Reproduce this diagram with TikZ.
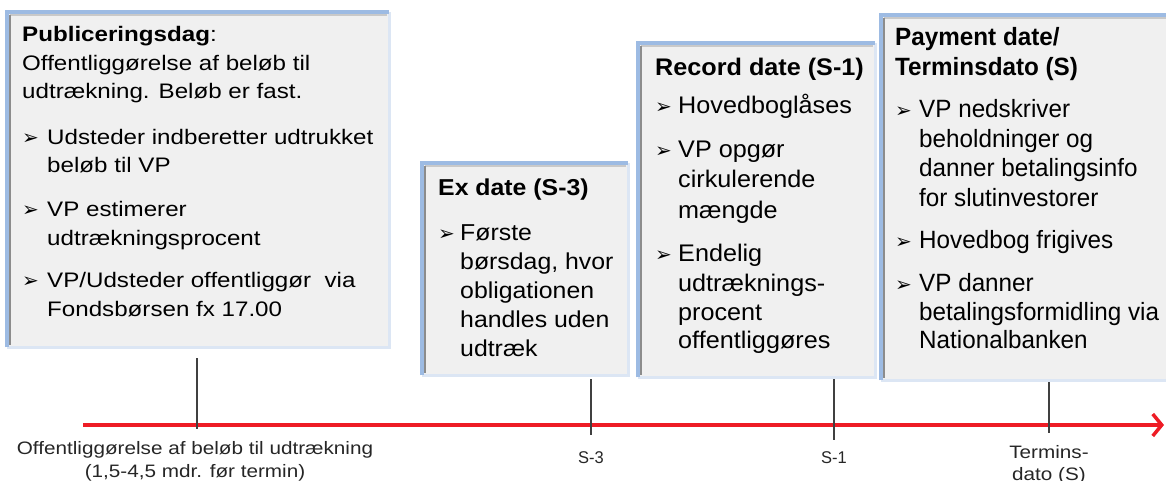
\documentclass[tikz,border=0pt]{standalone}
\usepackage{fontspec}
\setmainfont{Liberation Sans}
\newfontfamily\fA{Liberation Sans}[FakeStretch=1.15]
\newfontfamily\fB{Liberation Sans}[FakeStretch=1.08]
\newfontfamily\fC{Liberation Sans}[FakeStretch=1.05]
\newfontfamily\fD{Liberation Sans}[FakeStretch=0.97]
\newfontfamily\fL{Liberation Sans}[FakeStretch=1.15]
\newfontfamily\bulf{DejaVu Sans}
\usetikzlibrary{arrows.meta}
\definecolor{boxfill}{HTML}{F0F0F0}
\definecolor{edgeblue}{HTML}{9DBBE3}
\definecolor{edgelight}{HTML}{DCE6F4}
\definecolor{shadegray}{HTML}{8C8C8C}
\definecolor{topgray}{HTML}{C9C9C9}
\definecolor{tlred}{HTML}{EE1C25}
\definecolor{tickgray}{HTML}{404040}
\newcommand\bu[1]{\makebox[#1pt][l]{\raisebox{0pt}{\bulf\fontsize{20}{20}\selectfont ➢}}}
\newcommand\slidebox[5]{%
  \node[panel, minimum width={(#4-#2)*1pt}, minimum height={(#5-#3)*1pt}] (#1) at (#2,#3) {};
  \draw[topgray, line width=2pt] ([xshift=3pt,yshift=-3pt]#1.north west) -- ([xshift=-2pt,yshift=-3pt]#1.north east);
  \draw[shadegray, line width=1.6pt] ([xshift=3pt,yshift=-3pt]#1.north west) -- ([xshift=3pt,yshift=2pt]#1.south west);
  \draw[edgelight, line width=3pt] (#1.north east) -- (#1.south east) -- (#1.south west);
  \draw[edgeblue, line width=3.5pt] (#1.south west) -- (#1.north west) -- (#1.north east);
}
\begin{document}
\begin{tikzpicture}[x=1pt,y=-1pt,
  panel/.style={fill=boxfill, draw=none, inner sep=0pt, anchor=north west},
  txt/.style={anchor=base west, inner sep=0pt},
  lbl/.style={anchor=base, inner sep=0pt, text=black!85, font=\fL\fontsize{18}{18}\selectfont},
  tick/.style={draw=tickgray, line width=1.3pt},
  timeline/.style={draw=tlred, line width=4pt, -{Straight Barb[length=9pt,width=22pt,line width=3.5pt]}}]
\useasboundingbox (0,0) rectangle (1166,481);
\clip (0,0) rectangle (1166,481);

% ---- panels
\slidebox{b1}{7}{12}{389}{347}
\slidebox{b2}{422}{163}{628}{375}
\slidebox{b3}{638}{43}{875}{377}
\slidebox{b4}{881}{15}{1175}{380}

% ---- box 1
\begin{scope}[every node/.append style={font=\fA\fontsize{21}{25}\selectfont}]
\node[txt] (t1a) at (22,42) {\bfseries Publiceringsdag\mdseries:};
\node[txt] (t1b) at (22,71) {Offentliggørelse af beløb til};
\node[txt] (t1c) at (22,99) {udtrækning. Beløb er fast.};
\node[txt] (t1d) at (22,145) {\bu{25}Udsteder indberetter udtrukket};
\node[txt] (t1e) at (47,173) {beløb til VP};
\node[txt] (t1f) at (22,216) {\bu{25}VP estimerer};
\node[txt] (t1g) at (47,245) {udtrækningsprocent};
\node[txt] (t1h) at (22,287) {\bu{25}VP/Udsteder offentliggør\ \ via};
\node[txt] (t1i) at (47,316) {Fondsbørsen fx 17.00};
\end{scope}

% ---- box 2
\begin{scope}[every node/.append style={font=\fB\fontsize{23}{27}\selectfont}]
\node[txt] (t2a) at (438,196) {\bfseries Ex date (S-3)};
\node[txt] (t2b) at (438,240) {\bu{22}Første};
\node[txt] (t2c) at (460,269) {børsdag, hvor};
\node[txt] (t2d) at (460,298) {obligationen};
\node[txt] (t2e) at (460,327) {handles uden};
\node[txt] (t2f) at (460,356) {udtræk};
\end{scope}

% ---- box 3
\begin{scope}[every node/.append style={font=\fC\fontsize{24}{28}\selectfont}]
\node[txt] (t3a) at (655,76) {\bfseries Record date (S-1)};
\node[txt] (t3b) at (655,114) {\bu{23}Hovedboglåses};
\node[txt] (t3c) at (655,158) {\bu{23}VP opgør};
\node[txt] (t3d) at (678,188) {cirkulerende};
\node[txt] (t3e) at (678,218) {mængde};
\node[txt] (t3f) at (655,261) {\bu{23}Endelig};
\node[txt] (t3g) at (678,291) {udtræknings-};
\node[txt] (t3h) at (678,320) {procent};
\node[txt] (t3i) at (678,348) {offentliggøres};
\end{scope}

% ---- box 4
\begin{scope}[every node/.append style={font=\fD\fontsize{25}{29}\selectfont}]
\node[txt] (t4a) at (895,46) {\bfseries Payment date/};
\node[txt] (t4b) at (895,76) {\bfseries Terminsdato (S)};
\node[txt] (t4c) at (895,118) {\bu{24}VP nedskriver};
\node[txt] (t4d) at (919,148) {beholdninger og};
\node[txt] (t4e) at (919,176) {danner betalingsinfo};
\node[txt] (t4f) at (919,206) {for slutinvestorer};
\node[txt] (t4g) at (895,248) {\bu{24}Hovedbog frigives};
\node[txt] (t4h) at (895,291) {\bu{24}VP danner};
\node[txt] (t4i) at (919,320) {betalingsformidling via};
\node[txt] (t4j) at (919,348) {Nationalbanken};
\end{scope}

% ---- timeline
\coordinate (tlstart) at (83,425);
\coordinate (tlend) at (1164,425);
\draw[timeline] (tlstart) -- (tlend);

\coordinate (k1t) at (197,358); \coordinate (k1b) at (197,429);
\coordinate (k2t) at (591,379); \coordinate (k2b) at (591,435);
\coordinate (k3t) at (834,379); \coordinate (k3b) at (834,440);
\coordinate (k4t) at (1049,382); \coordinate (k4b) at (1049,433);
\draw[tick] (k1t) -- (k1b);
\draw[tick] (k2t) -- (k2b);
\draw[tick] (k3t) -- (k3b);
\draw[tick] (k4t) -- (k4b);

% ---- labels
\node[lbl] (l1a) at (195,454) {Offentliggørelse af beløb til udtrækning};
\node[lbl] (l1b) at (195,477) {(1,5-4,5 mdr. før termin)};
\node[lbl, font=\fD\fontsize{17}{17}\selectfont] (l2) at (591,463) {S-3};
\node[lbl, font=\fD\fontsize{17}{17}\selectfont] (l3) at (834,463) {S-1};
\node[lbl] (l4a) at (1049,458) {Termins-};
\node[lbl] (l4b) at (1049,480) {dato (S)};
\end{tikzpicture}
\end{document}
